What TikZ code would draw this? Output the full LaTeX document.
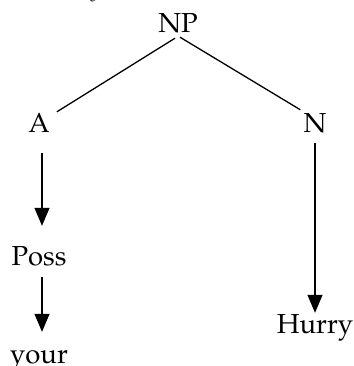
\documentclass[tikz,border=0pt]{standalone}
\usepackage[T1]{fontenc}
\usepackage{mathpazo}
\usetikzlibrary{arrows.meta}
\begin{document}
\begin{tikzpicture}[x=1pt,y=-1pt,
  lab/.style={font=\fontsize{27.5}{32}\selectfont, inner sep=0pt, text height=19pt, text depth=5pt, anchor=base},
  edge/.style={line width=1.3pt},
  arr/.style={line width=1.3pt, -{Triangle[width=15pt,length=18pt]}}]
\useasboundingbox (0,0) rectangle (353,366);
\begin{scope}
\clip (0,0) rectangle (353,366);
\node[lab, anchor=base east, text=black!70, font=\fontsize{27.5}{32}\selectfont\itshape] (top) at (110,-5) {Hurry.};
\end{scope}
\node[lab] (NP) at (178,33) {NP};
\node[lab] (A) at (39,133) {A};
\node[lab] (N) at (315,133) {N};
\node[lab] (Poss) at (39,265) {Poss};
\node[lab] (your) at (39,363) {your};
\node[lab] (Hurry) at (315,333) {Hurry};
\draw[edge] ([xshift=-3pt,yshift=0pt]NP.south) -- ([xshift=7pt,yshift=2pt]A.north east);
\draw[edge] ([xshift=2pt,yshift=1pt]NP.south) -- ([xshift=-3pt,yshift=4pt]N.north west);
\draw[arr, shorten <=15pt, shorten >=20pt] ([xshift=3pt]A.south) -- ([xshift=3pt]Poss.north);
\draw[arr, shorten <=7pt, shorten >=12pt] ([xshift=3pt]Poss.south) -- ([xshift=3pt]your.north);
\draw[arr, shorten <=5pt, shorten >=1pt] (N.south) -- (Hurry.north);
\end{tikzpicture}
\end{document}
